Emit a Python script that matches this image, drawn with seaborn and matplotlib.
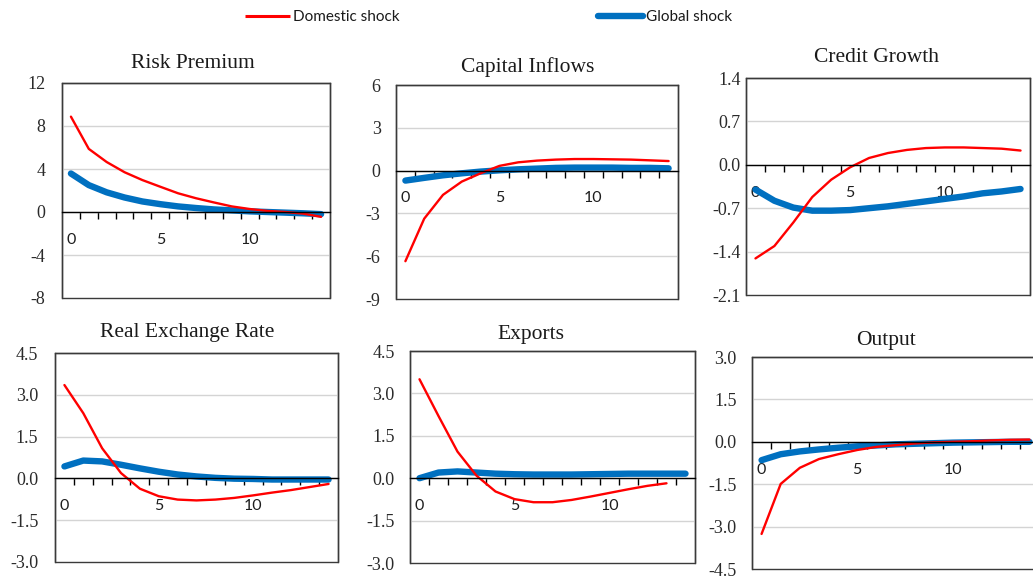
import numpy as np
import pandas as pd
import matplotlib
matplotlib.use("Agg")
import matplotlib.pyplot as plt
from matplotlib.lines import Line2D
from matplotlib.ticker import MultipleLocator, FixedLocator, FormatStrFormatter
import seaborn as sns

sns.set_theme(style="white")
plt.rcParams["font.family"] = ["Lato", "DejaVu Sans"]

# Impulse responses by quarter after the shock
periods = list(range(15))

risk_domestic = [8.87, 5.87, 4.65, 3.7, 2.97, 2.35, 1.74, 1.28, 0.89, 0.52, 0.28, 0.1, 0.0, -0.15, -0.45]
risk_global = [3.58, 2.5, 1.83, 1.35, 0.98, 0.73, 0.52, 0.37, 0.24, 0.15, 0.06, 0.0, -0.06, -0.12, -0.2]

inflows_domestic = [-6.35, -3.37, -1.7, -0.77, -0.19, 0.33, 0.58, 0.7, 0.77, 0.81, 0.81, 0.79, 0.77, 0.72, 0.67]
inflows_global = [-0.7, -0.51, -0.33, -0.19, -0.07, 0.02, 0.09, 0.14, 0.19, 0.21, 0.21, 0.21, 0.19, 0.19, 0.16]

credit_domestic = [-1.51, -1.31, -0.93, -0.52, -0.24, -0.04, 0.11, 0.19, 0.24, 0.27, 0.28, 0.28, 0.27, 0.26, 0.23]
credit_global = [-0.40, -0.58, -0.69, -0.74, -0.74, -0.73, -0.70, -0.67, -0.63, -0.59, -0.55, -0.51, -0.46, -0.43, -0.39]

rer_domestic = [3.35, 2.34, 1.08, 0.19, -0.37, -0.64, -0.76, -0.79, -0.76, -0.70, -0.61, -0.51, -0.42, -0.31, -0.2]
rer_global = [0.43, 0.64, 0.61, 0.49, 0.36, 0.24, 0.14, 0.07, 0.02, -0.01, -0.02, -0.04, -0.04, -0.04, -0.04]

exports_domestic = [3.5, 2.2, 0.94, 0.09, -0.47, -0.74, -0.85, -0.85, -0.77, -0.65, -0.52, -0.39, -0.27, -0.18]
exports_global = [0.0, 0.2, 0.24, 0.2, 0.16, 0.14, 0.13, 0.13, 0.13, 0.14, 0.15, 0.16, 0.16, 0.16, 0.16]

output_domestic = [-3.26, -1.49, -0.92, -0.61, -0.44, -0.29, -0.18, -0.12, -0.06, -0.02, 0.0, 0.02, 0.05, 0.07, 0.08]
output_global = [-0.65, -0.44, -0.34, -0.27, -0.21, -0.16, -0.13, -0.09, -0.07, -0.05, -0.03, -0.02, -0.01, 0.0, 0.0]

titles = ["Risk Premium", "Capital Inflows", "Credit Growth",
          "Real Exchange Rate", "Exports", "Output"]
series_domestic = [risk_domestic, inflows_domestic, credit_domestic,
                   rer_domestic, exports_domestic, output_domestic]
series_global = [risk_global, inflows_global, credit_global,
                 rer_global, exports_global, output_global]
y_limits = [(-8, 12), (-9, 6), (-2.1, 1.4), (-3.0, 4.5), (-3.0, 4.5), (-4.5, 3.0)]
y_steps = [4, 3, 0.7, 1.5, 1.5, 1.5]
y_formats = ["%d", "%d", "%.1f", "%.1f", "%.1f", "%.1f"]
x_labels = [0, 5, 10]

DOM, GLOB = "Domestic shock", "Global shock"
colors = {DOM: "#FF0000", GLOB: "#0070C0"}
widths = {DOM: 1.7, GLOB: 4.6}

W, H = 1033, 581
fig = plt.figure(figsize=(W / 100, H / 100), dpi=100)

# panel boxes in pixels: left, right, top, bottom
boxes = [(62, 330, 83, 298), (396, 678, 85, 299), (746, 1030, 78, 295),
         (55, 338, 353, 562), (410, 695, 351, 563), (752, 1039, 357, 569)]
title_pos = [(193, 63), (528, 67), (877, 57), (187, 333), (531, 334), (886, 341)]
y_pads = [12, 11, 4, 12, 11, 11]

serif = ["Liberation Serif", "DejaVu Serif"]
sans = ["Lato", "DejaVu Sans"]

for i in range(6):
    l, r, t, b = boxes[i]
    ax = fig.add_axes([l / W, 1 - b / H, (r - l) / W, (b - t) / H])

    dom = series_domestic[i]
    glob = series_global[i]
    df = pd.concat([
        pd.DataFrame({"period": periods[:len(glob)], "value": glob, "shock": GLOB}),
        pd.DataFrame({"period": periods[:len(dom)], "value": dom, "shock": DOM}),
    ], ignore_index=True)

    sns.lineplot(data=df, x="period", y="value", hue="shock", size="shock",
                 hue_order=[GLOB, DOM], size_order=[GLOB, DOM],
                 palette=colors, sizes=widths, estimator=None, sort=False,
                 legend=False, ax=ax)
    for ln in ax.lines:
        ln.set_solid_capstyle("round")
        ln.set_solid_joinstyle("round")

    lo, hi = y_limits[i]
    ax.set_xlim(-0.5, 14.5)
    ax.set_ylim(lo, hi)
    ax.set_xlabel("")
    ax.set_ylabel("")

    # horizontal gridlines and y labels
    ax.yaxis.set_major_locator(MultipleLocator(y_steps[i]))
    ax.yaxis.set_major_formatter(FormatStrFormatter(y_formats[i]))
    ax.yaxis.grid(True, color="#D4D4D4", linewidth=1.0)
    ax.xaxis.grid(False)
    ax.tick_params(axis="y", length=0, pad=y_pads[i], labelsize=13,
                   labelcolor="#2A2A2A")
    for lab in ax.get_yticklabels():
        lab.set_family(serif)

    # category axis running along zero
    ax.spines["bottom"].set_position(("data", 0))
    ax.spines["bottom"].set_color("black")
    ax.spines["bottom"].set_linewidth(1.0)
    for side in ["left", "top", "right"]:
        ax.spines[side].set_color("#3A3A3A")
        ax.spines[side].set_linewidth(1.0)
    ax.patch.set_edgecolor("#3A3A3A")
    ax.patch.set_linewidth(1.0)

    ax.set_xticks(x_labels)
    ax.xaxis.set_minor_locator(FixedLocator(np.arange(0.5, 14.0, 1.0)))
    ax.tick_params(axis="x", which="major", bottom=True, length=0, pad=15,
                   labelsize=11.5, labelcolor="#1E1E1E")
    ax.tick_params(axis="x", which="minor", bottom=True, length=5, width=1.0,
                   direction="out", color="black")
    for lab in ax.get_xticklabels():
        lab.set_family(sans)

    tx, ty = title_pos[i]
    fig.text(tx / W, 1 - ty / H, titles[i], ha="center", va="center",
             fontsize=15.5, family=serif, color="#1A1A1A")

handles = [Line2D([], [], color=colors[DOM], lw=2.2, solid_capstyle="butt"),
           Line2D([], [], color=colors[GLOB], lw=4.6, solid_capstyle="round")]
fig.legend(handles, [DOM, GLOB], loc="center left",
           bbox_to_anchor=(245 / W, 1 - 17 / H), ncol=2, frameon=False,
           fontsize=11, handlelength=2.94, handletextpad=0.2,
           columnspacing=13.0, borderpad=0, borderaxespad=0,
           labelcolor="#1A1A1A")

fig.savefig("out.png", dpi=100)
